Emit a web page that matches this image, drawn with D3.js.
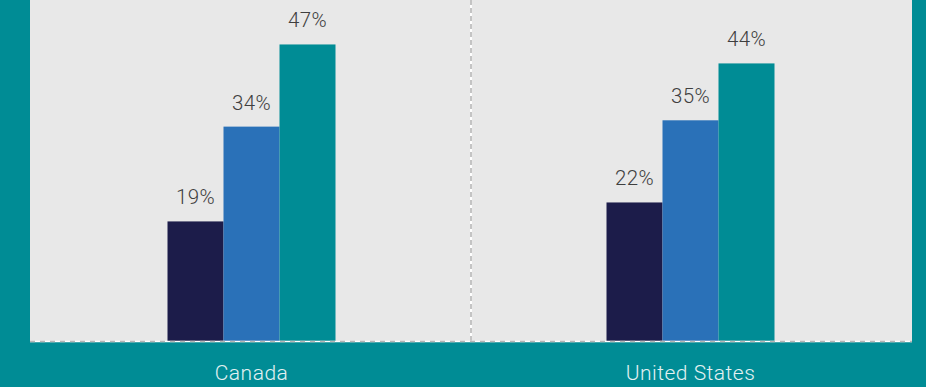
<!DOCTYPE html>
<html>
<head>
<meta charset="utf-8">
<script src="https://cdn.jsdelivr.net/npm/d3@7/dist/d3.min.js"></script>
<style>
  html, body { margin: 0; padding: 0; background: #008c95; }
  svg { display: block; }
</style>
</head>
<body>
<svg id="chart" width="926" height="387"></svg>
<script>
// Share of respondents by country, three series per country
const categories = ["Canada", "United States"];
const seriesNames = ["Series 1", "Series 2", "Series 3"];
const series1 = [19, 22];
const series2 = [34, 35];
const series3 = [47, 44];
const seriesColors = ["#1c1c4a", "#2a71b8", "#008c95"];

const values = [series1, series2, series3];
const rows = categories.map((c, i) => ({
  category: c,
  bars: seriesNames.map((s, j) => ({ series: s, value: values[j][i], color: seriesColors[j] }))
}));

const svg = d3.select("#chart");
const panel = { left: 30, right: 912, top: 0, bottom: 341.5 };
const FONT = "'Helvetica Neue', Roboto, 'Liberation Sans', Arial, sans-serif";

// Plot panel
svg.append("rect")
  .attr("x", panel.left).attr("y", panel.top)
  .attr("width", panel.right - panel.left)
  .attr("height", panel.bottom - panel.top)
  .attr("fill", "#e8e8e8");

const x0 = d3.scaleBand()
  .domain(categories)
  .range([32, 910])
  .paddingInner(0).paddingOuter(0);

const groupWidth = 168;
const x1 = d3.scaleBand()
  .domain(seriesNames)
  .range([0, groupWidth])
  .padding(0);

const y = d3.scaleLinear()
  .domain([0, 54])
  .range([panel.bottom, panel.bottom - 54 * 6.32]);

// Dashed divider between the country groups
const divX = x0(categories[1]);
svg.append("line")
  .attr("x1", divX).attr("x2", divX)
  .attr("y1", panel.top).attr("y2", panel.bottom)
  .attr("stroke", "#ffffff").attr("stroke-width", 2);
svg.append("line")
  .attr("x1", divX).attr("x2", divX)
  .attr("y1", panel.top).attr("y2", panel.bottom)
  .attr("stroke", "#c4c4c4").attr("stroke-width", 2)
  .attr("stroke-dasharray", "5,3");

const groups = svg.selectAll("g.group")
  .data(rows)
  .join("g")
  .attr("class", "group")
  .attr("transform", d => `translate(${x0(d.category) + (x0.bandwidth() - groupWidth) / 2},0)`);

groups.selectAll("rect")
  .data(d => d.bars)
  .join("rect")
  .attr("x", d => x1(d.series))
  .attr("y", d => y(d.value))
  .attr("width", x1.bandwidth())
  .attr("height", d => y(0) - y(d.value))
  .attr("fill", d => d.color);

groups.selectAll("text.value")
  .data(d => d.bars)
  .join("text")
  .attr("class", "value")
  .attr("x", d => x1(d.series) + x1.bandwidth() / 2)
  .attr("y", d => y(d.value) - 17)
  .attr("text-anchor", "middle")
  .attr("font-family", FONT)
  .attr("font-weight", 300)
  .attr("font-size", 20.5)
  .attr("letter-spacing", 0.4)
  .attr("fill", "#3f3f3f")
  .text(d => d.value + "%");

// Dashed baseline
svg.append("line")
  .attr("x1", panel.left).attr("x2", panel.right)
  .attr("y1", panel.bottom).attr("y2", panel.bottom)
  .attr("stroke", "#ffffff").attr("stroke-width", 1.5);
svg.append("line")
  .attr("x1", panel.left).attr("x2", panel.right)
  .attr("y1", panel.bottom).attr("y2", panel.bottom)
  .attr("stroke", "#b5b5b5").attr("stroke-width", 1.5)
  .attr("stroke-dasharray", "5,5");

// Category axis labels
const xAxis = d3.axisBottom(x0).tickSize(0).tickPadding(0);
const axisG = svg.append("g")
  .attr("transform", `translate(0,${panel.bottom})`)
  .call(xAxis);
axisG.select(".domain").remove();
axisG.selectAll("text")
  .attr("y", 38.5)
  .attr("dy", 0)
  .attr("font-family", FONT)
  .attr("font-weight", 300)
  .attr("font-size", 21)
  .attr("letter-spacing", 0.5)
  .attr("fill", "#e3f1f2");
</script>
</body>
</html>
